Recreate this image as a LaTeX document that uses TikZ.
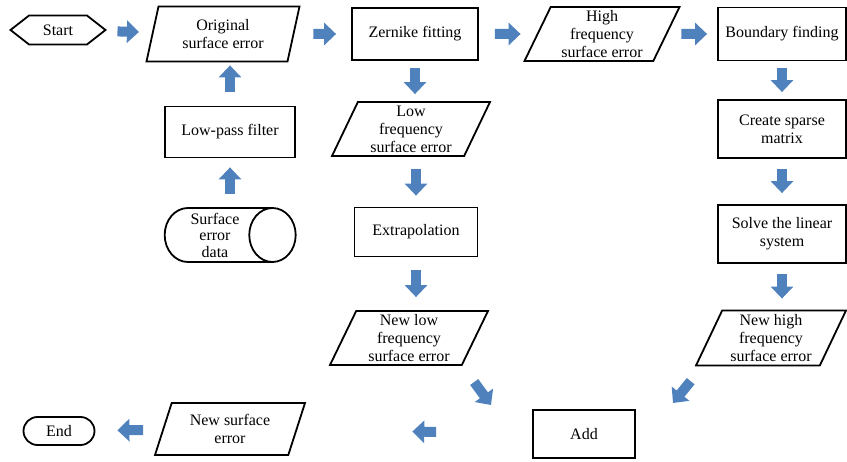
\documentclass[tikz,border=0pt]{standalone}
\usepackage{fontspec}
\setmainfont{Liberation Serif}
\usetikzlibrary{shapes,arrows.meta}
\definecolor{flowblue}{HTML}{4F81BD}
\tikzstyle{block} = [rectangle, draw, line width=1.8pt, text centered, align=center, inner sep=1pt, font=\fontsize{16}{18}\selectfont]
\tikzstyle{io} = [trapezium, trapezium stretches body, trapezium left angle=62, trapezium right angle=118, draw, line width=1.8pt, align=center, inner sep=1pt, font=\fontsize{16}{18}\selectfont]
\tikzstyle{terminal} = [draw, line width=1.8pt, inner sep=1pt, font=\fontsize{16}{18}\selectfont]
\tikzstyle{line} = [draw=flowblue, line width=10pt, -{Triangle[length=12pt,width=22pt]}]

\begin{document}
\begin{tikzpicture}[x=1pt,y=-1pt]
\useasboundingbox (0,0) rectangle (847,462);
\node [terminal, signal, signal to=west and east, signal pointer angle=76, minimum width=95pt, minimum height=29pt] (start) at (58,30) {Start};
\node [io, trapezium left angle=69, trapezium right angle=111, minimum width=153pt, minimum height=55pt] (orig) at (223,34) {Original\\surface error};
\node [block, minimum width=126pt, minimum height=52pt] (zern) at (415,34) {Zernike fitting};
\node [io, minimum width=155pt, minimum height=54pt] (high) at (602,34) {High\\frequency\\surface error};
\node [block, minimum width=128pt, minimum height=53pt] (bound) at (782,34) {Boundary finding};
\node [block, minimum width=128pt, minimum height=58pt] (sparse) at (782,129) {Create sparse\\matrix};
\node [block, minimum width=128pt, minimum height=58pt] (solve) at (782,234) {Solve the linear\\system};
\node [io, minimum width=150pt, minimum height=55pt] (newhigh) at (771,338) {New high\\frequency\\surface error};
\node [block, minimum width=102pt, minimum height=48pt] (add) at (584,434) {Add};
\node [io, minimum width=150pt, minimum height=52pt] (newsurf) at (230,429) {New surface\\error};
\node [terminal, rounded rectangle, minimum width=73pt, minimum height=28pt] (end) at (59,431) {End};
\node [block, minimum width=130pt, minimum height=51pt] (lowpass) at (230,132) {Low-pass filter};
\node [terminal, cylinder, aspect=1, align=center, minimum width=54pt, minimum height=131pt, font=\fontsize{16}{16.5}\selectfont] (data) at (215,235) {Surface\\error\\data};
\node [io, minimum width=158pt, minimum height=54pt] (lowfreq) at (411,129) {Low\\frequency\\surface error};
\node [block, minimum width=123pt, minimum height=49pt] (extra) at (416,232) {Extrapolation};
\node [io, minimum width=158pt, minimum height=54pt] (newlow) at (409,338) {New low\\frequency\\surface error};
\coordinate (lowin) at (491,405);
\coordinate (highin) at (673,403);

\path [line, shorten <=12pt, shorten >=13pt] (start) -- (orig);
\path [line, shorten <=19pt, shorten >=15pt] (orig) -- (zern);
\path [line, shorten <=16pt, shorten >=16pt] (zern) -- (high);
\path [line, shorten <=14pt, shorten >=10pt] (high) -- (bound);
\path [line, shorten <=7pt, shorten >=7pt] (bound) -- (sparse);
\path [line, shorten <=10pt, shorten >=11pt] (sparse) -- (solve);
\path [line, shorten <=10pt, shorten >=11pt] (solve.south) -- (solve |- newhigh.north);
\path [line, shorten <=20pt] (newlow.bottom right corner) -- (lowin);
\path [line, shorten <=19pt] ([xshift=8pt]newhigh.bottom left corner) -- (highin);
\path [line, shorten <=96pt, shorten >=115pt] (add) -- (newsurf);
\path [line, shorten <=19pt, shorten >=22pt] (newsurf) -- (end);

\path [line, shorten <=7pt, shorten >=7pt] (zern.south) -- (zern |- lowfreq.north);
\path [line, shorten <=12pt, shorten >=11pt] (extra |- lowfreq.south) -- (extra.north);
\path [line, shorten <=13pt, shorten >=13pt] (extra.south) -- (extra |- newlow.north);

\path [line, shorten <=13pt, shorten >=9pt] (lowpass |- data.north) -- (lowpass.south);
\path [line, shorten <=14pt, shorten >=3pt] (lowpass.north) -- (lowpass |- orig.south);
\end{tikzpicture}
\end{document}
